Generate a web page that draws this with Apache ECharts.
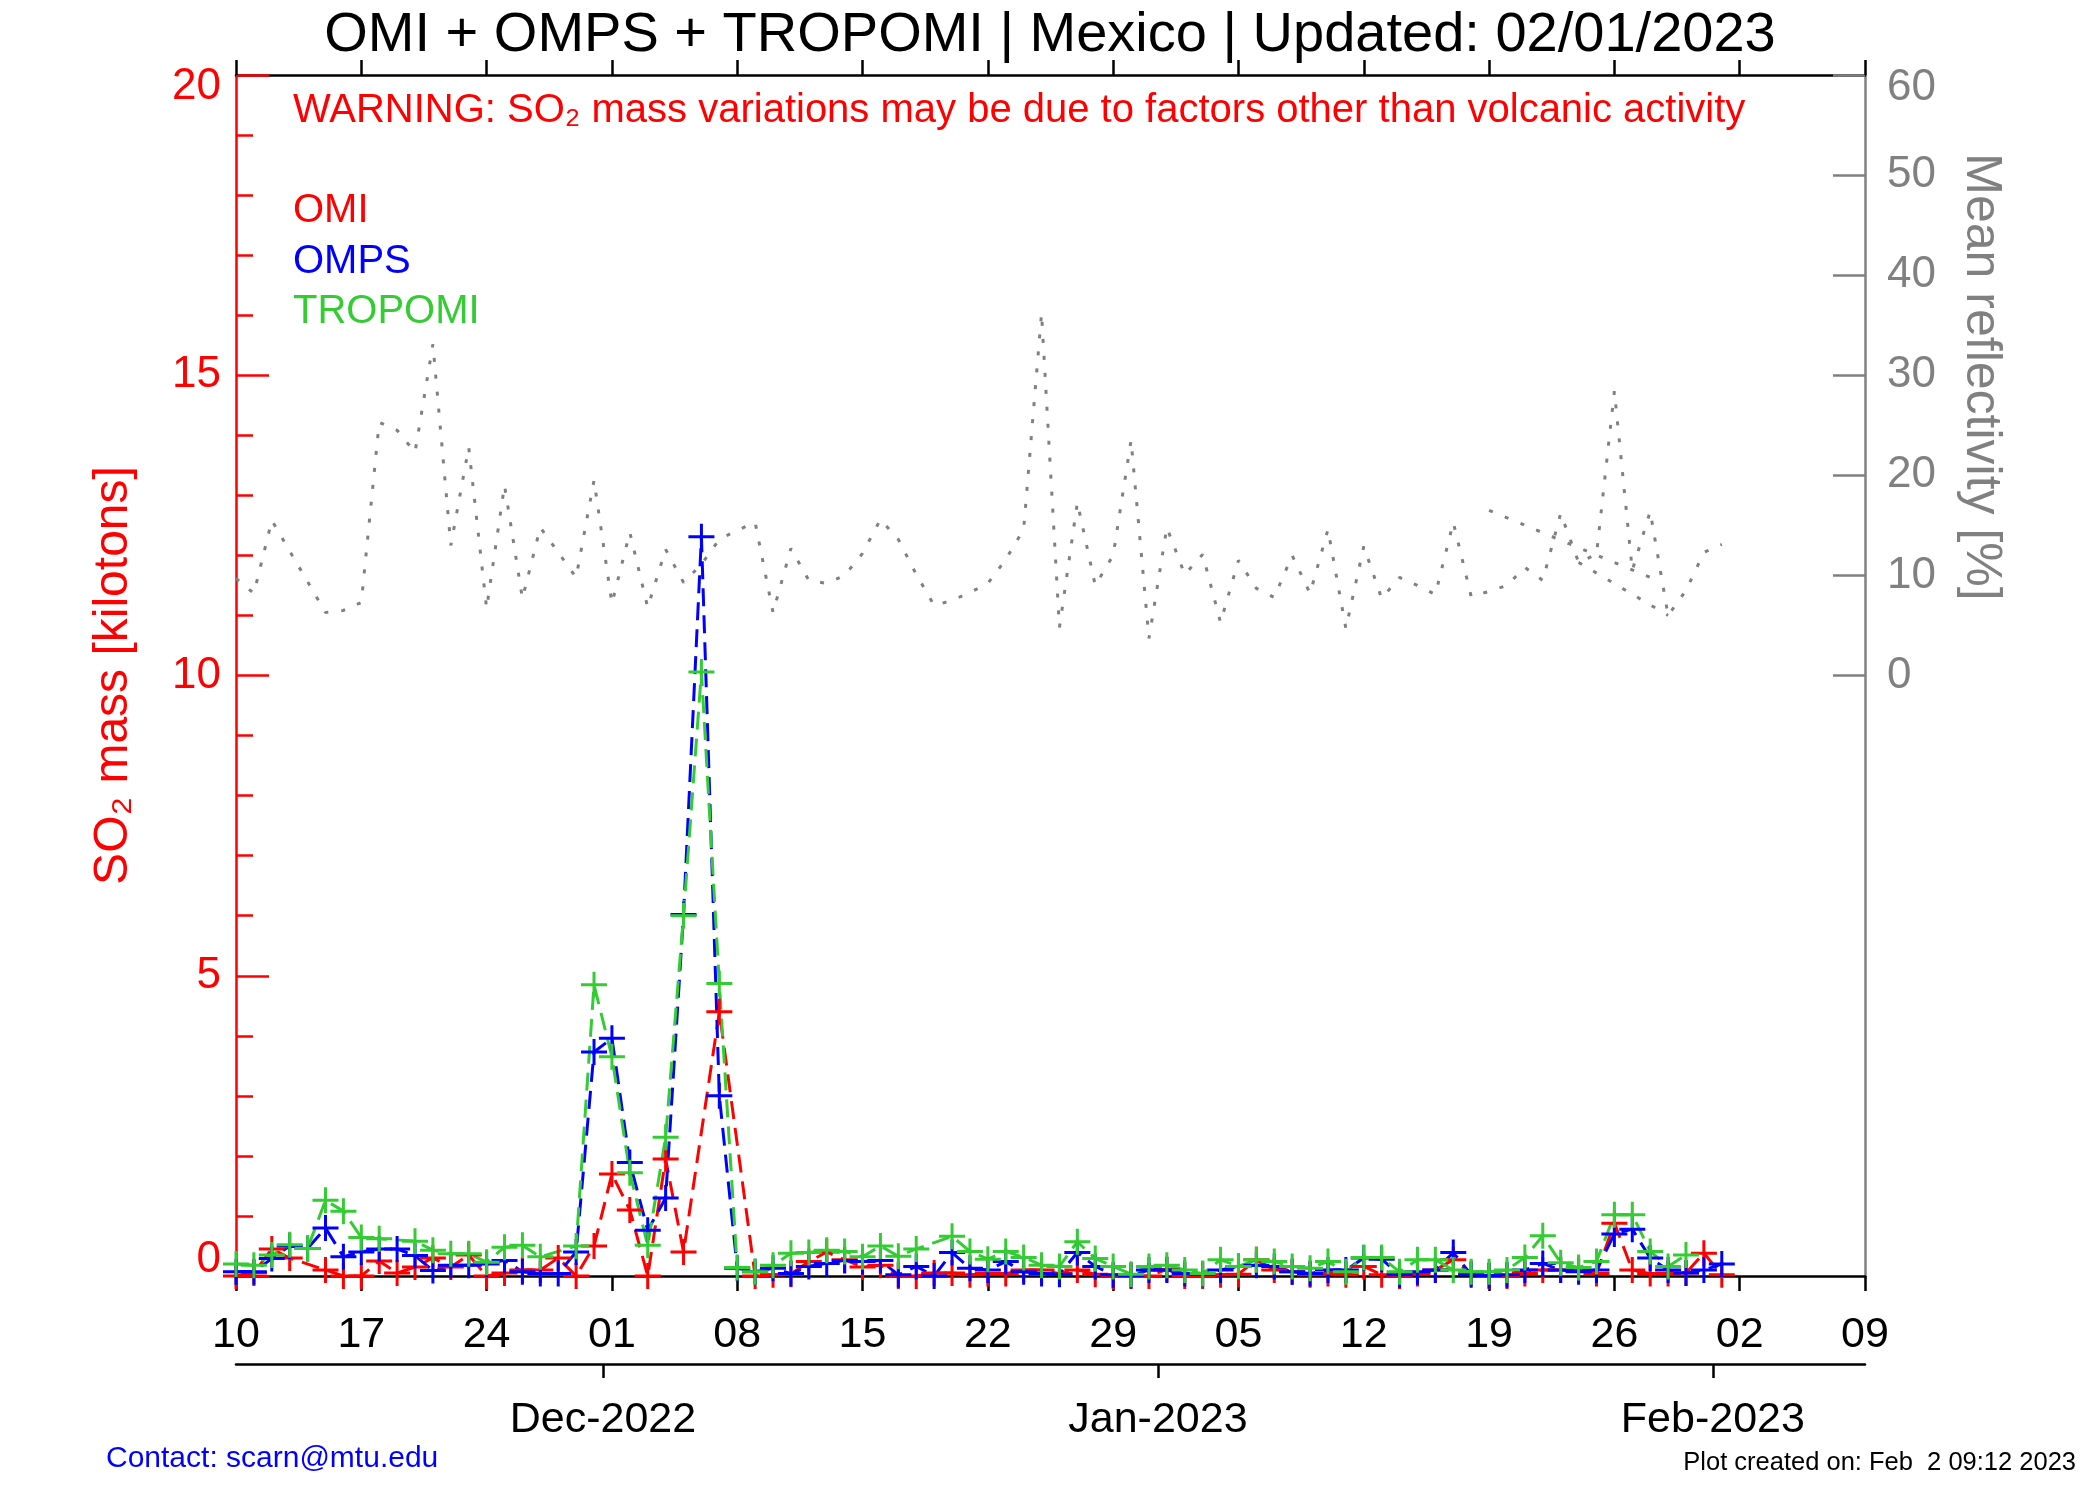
<!DOCTYPE html>
<html>
<head>
<meta charset="utf-8">
<title>OMI + OMPS + TROPOMI | Mexico</title>
<script src="https://cdn.jsdelivr.net/npm/echarts@6/dist/echarts.min.js"></script>
<style>
  html, body { margin: 0; padding: 0; background: #fff; }
  #chart { width: 2100px; height: 1500px; }
</style>
</head>
<body>
<div id="chart"></div>
<script>
// x = days since 10 Nov 2022 (index in the arrays below)
const tickDays = [0, 7, 14, 21, 28, 35, 42, 49, 56, 63, 70, 77, 84, 91];
const dayLabels = ["10", "17", "24", "01", "08", "15", "22", "29", "05", "12", "19", "26", "02", "09"];
const monthTickDays = [20.5, 51.5, 82.5];
const monthLabels = ["Dec-2022", "Jan-2023", "Feb-2023"];
const rightTicks = [0, 10, 20, 30, 40, 50, 60];

// SO2 mass [kilotons], one value per day from 10 Nov 2022 to 01 Feb 2023 (null = no data)
const omi = [0.0, 0.05, 0.45, 0.3, null, 0.1, 0.0, 0.0, 0.25, 0.05,
  0.15, 0.3, 0.15, 0.35, 0.0, 0.05, 0.1, 0.1, 0.3, 0.0,
  0.5, 1.7, 1.1, 0.0, 1.95, 0.4, null, 4.4, null, 0.0,
  0.02, 0.03, 0.24, 0.4, 0.27, 0.15, 0.18, 0.0, 0.0, 0.05,
  0.05, 0.02, 0.04, 0.04, 0.1, 0.1, 0.04, 0.1, 0.03, 0.0,
  0.0, 0.0, 0.11, 0.0, 0.0, 0.02, 0.03, 0.27, 0.1, 0.07,
  0.02, 0.04, 0.02, 0.16, 0.02, 0.0, 0.04, 0.1, 0.27, 0.04,
  0.0, 0.0, 0.04, 0.1, 0.1, 0.1, 0.04, 0.88, 0.1, 0.04,
  0.04, 0.05, 0.38, 0.02];
const omps = [0.07, 0.07, 0.29, 0.5, 0.46, 0.8, 0.32, 0.4, 0.45, 0.45,
  0.34, 0.09, 0.18, 0.18, 0.2, 0.26, 0.07, 0.04, 0.04, 0.4,
  3.73, 3.96, 1.89, 0.76, 1.3, 6.02, 12.31, 3.0, 0.13, 0.07,
  0.13, 0.04, 0.16, 0.21, 0.26, 0.24, 0.26, 0.02, 0.16, 0.0,
  0.39, 0.13, 0.1, 0.24, 0.07, 0.04, 0.03, 0.39, 0.16, 0.02,
  0.01, 0.1, 0.1, 0.04, 0.03, 0.1, 0.16, 0.18, 0.16, 0.07,
  0.04, 0.1, 0.1, 0.3, 0.28, 0.02, 0.07, 0.1, 0.39, 0.02,
  0.01, 0.02, 0.1, 0.21, 0.1, 0.07, 0.1, 0.7, 0.78, 0.3,
  0.1, 0.05, 0.1, 0.2];
const tropomi = [0.2, 0.18, 0.35, 0.52, 0.46, 1.26, 1.08, 0.64, 0.62, null,
  0.58, 0.43, 0.37, 0.37, 0.23, 0.48, 0.51, 0.32, null, 0.5,
  4.85, 3.65, 1.72, 0.51, 2.31, 6.0, 10.06, 4.87, 0.14, 0.07,
  0.18, 0.38, 0.39, 0.43, 0.41, 0.32, 0.5, 0.33, 0.45, null,
  0.66, 0.41, 0.28, 0.41, 0.31, 0.18, 0.16, 0.57, 0.29, 0.16,
  0.03, 0.16, 0.18, 0.1, 0.04, 0.27, 0.16, 0.27, 0.24, 0.16,
  0.13, 0.24, 0.07, 0.31, 0.31, 0.07, 0.27, 0.27, 0.1, 0.07,
  0.07, 0.1, 0.31, 0.67, 0.22, 0.14, 0.24, 1.02, 1.02, 0.41,
  0.16, 0.35];

// mean reflectivity [%]
const reflectivity = [9.7, 8.2, 15.5, null, null, 6.3, 6.5, 7.3, 25.3, 24.5,
  22.3, 33.1, 13.0, 22.8, 6.7, 19.0, 7.7, 14.8, null, 9.8,
  19.5, 7.2, 14.3, 6.8, 12.6, 9.3, 11.1, 13.6, 14.5, 15.3,
  6.3, 12.7, 9.5, 9.2, 10.0, 12.2, 15.6, 13.6, 10.1, 7.0,
  7.5, 8.3, 9.2, 11.6, 14.6, 36.2, 4.8, 17.3, 9.0, 12.0,
  23.5, 3.7, 14.8, 10.1, 12.1, 5.3, 11.5, 8.7, 7.8, 12.0,
  8.2, 14.6, 4.7, 12.9, 7.7, 9.8, 9.0, 8.1, 15.3, 7.9,
  8.4, 9.0, 10.8, 9.5, 16.2, 11.3, 12.1, 28.4, 10.5, 16.4,
  6.0, 8.5, 12.3, 13.1];
const reflectivity2Days = [70, 79];
const reflectivity2 = [16.5, 9.8];
const reflectivity3Days = [75, 80];
const reflectivity3 = [11.3, 6.0];

const FONT = "'Liberation Sans', Arial, Helvetica, sans-serif";
const plusSymbol = "path://M0,11.5H11.5V0H14.5V11.5H26V14.5H14.5V26H11.5V14.5H0Z";

function pairs(values, days) {
  return values.map(function (v, i) {
    return [days ? days[i] : i, v == null ? "-" : v];
  });
}

function so2Series(name, values, color) {
  return {
    name: name,
    type: "line",
    xAxisIndex: 0,
    yAxisIndex: 0,
    data: pairs(values),
    connectNulls: true,
    symbol: plusSymbol,
    symbolSize: 26,
    showSymbol: true,
    showAllSymbol: true,
    lineStyle: { color: color, width: 3, type: [18, 9] },
    itemStyle: { color: color, borderWidth: 0 },
    emphasis: { disabled: true },
    silent: true
  };
}

function reflSeries(data) {
  return {
    type: "line",
    xAxisIndex: 0,
    yAxisIndex: 1,
    data: data,
    connectNulls: true,
    symbol: "none",
    lineStyle: { color: "#808080", width: 3, type: [4, 13] },
    emphasis: { disabled: true },
    silent: true
  };
}

const myChart = echarts.init(document.getElementById("chart"));
const option = {
  animation: false,
  backgroundColor: "#fff",
  textStyle: { fontFamily: FONT },
  title: {
    text: "OMI + OMPS + TROPOMI | Mexico | Updated: 02/01/2023",
    left: "center",
    top: 3,
    textStyle: { fontSize: 56, fontWeight: "normal", color: "#000", fontFamily: FONT }
  },
  grid: { left: 236, right: 235, top: 75, bottom: 224 },
  xAxis: [
    {
      type: "value", position: "bottom", min: 0, max: 91, interval: 7,
      axisLine: { show: true, onZero: false, lineStyle: { color: "#000", width: 2.5 } },
      axisTick: { show: true, inside: false, length: 15, lineStyle: { color: "#000", width: 2.5 } },
      axisLabel: {
        show: true, color: "#000", fontSize: 43, lineHeight: 43, margin: 38, fontFamily: FONT,
        formatter: function (v) { return dayLabels[tickDays.indexOf(v)] || ""; }
      },
      splitLine: { show: false }
    },
    {
      type: "value", position: "top", min: 0, max: 91, interval: 7,
      axisLine: { show: true, onZero: false, lineStyle: { color: "#000", width: 2.5 } },
      axisTick: { show: true, inside: false, length: 15, lineStyle: { color: "#000", width: 2.5 } },
      axisLabel: { show: false },
      splitLine: { show: false }
    },
    {
      type: "value", position: "bottom", offset: 88, min: 0, max: 91,
      axisLine: { show: true, onZero: false, lineStyle: { color: "#000", width: 2.5 } },
      axisTick: { show: true, inside: false, length: 14, customValues: monthTickDays, lineStyle: { color: "#000", width: 2.5 } },
      axisLabel: {
        show: true, customValues: monthTickDays, color: "#000", fontSize: 43, lineHeight: 43, margin: 35, fontFamily: FONT,
        formatter: function (v) { return monthLabels[monthTickDays.indexOf(v)] || ""; }
      },
      splitLine: { show: false }
    }
  ],
  yAxis: [
    {
      type: "value", position: "left", min: 0, max: 20, interval: 5,
      axisLine: { show: true, onZero: false, lineStyle: { color: "#ff0000", width: 2.5 } },
      axisTick: { show: true, inside: true, length: 33, lineStyle: { color: "#ff0000", width: 2.5 } },
      minorTick: { show: true, splitNumber: 5, length: 17, lineStyle: { color: "#ff0000", width: 2.5 } },
      axisLabel: {
        color: "#ff0000", fontSize: 44, margin: 15, fontFamily: FONT,
        formatter: function (v) {
          if (v === 20) return "{top|20}";
          if (v === 0) return "{bot|0}";
          return String(v);
        },
        rich: {
          top: { color: "#ff0000", fontSize: 44, fontFamily: FONT, padding: [24, 0, 0, 0] },
          bot: { color: "#ff0000", fontSize: 44, fontFamily: FONT, padding: [0, 0, 32, 0] }
        }
      },
      splitLine: { show: false },
      minorSplitLine: { show: false },
      name: "SO₂ mass [kilotons]",
      nameLocation: "middle",
      nameRotate: 90,
      nameGap: 98,
      nameTextStyle: { color: "#ff0000", fontSize: 48, fontFamily: FONT }
    },
    {
      type: "value", position: "right", min: -60, max: 60, interval: 10,
      axisLine: { show: true, onZero: false, lineStyle: { color: "#808080", width: 2.5 } },
      axisTick: { show: true, inside: true, length: 32, customValues: rightTicks, lineStyle: { color: "#808080", width: 2.5 } },
      axisLabel: {
        customValues: rightTicks, color: "#808080", fontSize: 44, margin: 22, fontFamily: FONT,
        formatter: function (v) { return v === 60 ? "{top|60}" : String(v); },
        rich: {
          top: { color: "#808080", fontSize: 44, fontFamily: FONT, padding: [26, 0, 0, 0] }
        }
      },
      splitLine: { show: false }
    }
  ],
  graphic: [
    {
      type: "text", left: 293, top: 91,
      style: { text: "WARNING: SO₂ mass variations may be due to factors other than volcanic activity", fill: "#ff0000", font: "40px " + FONT }
    },
    { type: "text", left: 293, top: 191, style: { text: "OMI", fill: "#ff0000", font: "40px " + FONT } },
    { type: "text", left: 293, top: 242, style: { text: "OMPS", fill: "#0000ff", font: "40px " + FONT } },
    { type: "text", left: 293, top: 292, style: { text: "TROPOMI", fill: "#33cc33", font: "40px " + FONT } },
    {
      type: "text", x: 1981, y: 377, rotation: -Math.PI / 2,
      style: { text: "Mean reflectivity [%]", fill: "#808080", font: "50px " + FONT, textAlign: "center", textVerticalAlign: "middle" }
    },
    { type: "text", left: 106, top: 1444, style: { text: "Contact: scarn@mtu.edu", fill: "#0000ff", font: "30px " + FONT } },
    {
      type: "text", x: 2076, y: 1463,
      style: { text: "Plot created on: Feb  2 09:12 2023", fill: "#000", font: "25.5px " + FONT, textAlign: "right", textVerticalAlign: "middle" }
    }
  ],
  series: [
    reflSeries(pairs(reflectivity)),
    reflSeries(pairs(reflectivity2, reflectivity2Days)),
    reflSeries(pairs(reflectivity3, reflectivity3Days)),
    so2Series("OMI", omi, "#ff0000"),
    so2Series("OMPS", omps, "#0000ff"),
    so2Series("TROPOMI", tropomi, "#33cc33")
  ]
};
myChart.setOption(option);
</script>
</body>
</html>
